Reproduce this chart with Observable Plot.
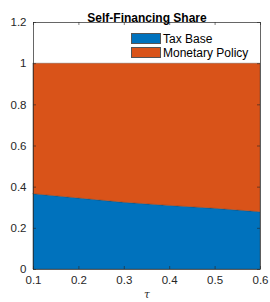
<!DOCTYPE html>
<html><head><meta charset="utf-8">
<script src="https://cdn.jsdelivr.net/npm/d3@7"></script>
<script src="https://cdn.jsdelivr.net/npm/@observablehq/plot@0.6"></script>
<style>
body{margin:0;background:#fff}
#wrap{position:relative;width:270px;height:302px;font-family:"Liberation Sans",Arial,Helvetica,sans-serif}
.leg{position:absolute;left:131px;font-size:12px;color:#000;display:flex;align-items:center;height:11px;white-space:nowrap}
.sw{width:30px;height:11px;border:0.6px solid #555;box-sizing:border-box;margin-right:2px}
</style></head><body><div id="wrap"></div>
<script>
const tau = [0.1, 0.2, 0.3, 0.4, 0.5, 0.6];
const taxBase = [0.366, 0.345, 0.324, 0.309, 0.295, 0.278];
const monetaryPolicy = [0.634, 0.655, 0.676, 0.691, 0.705, 0.722];
const seriesNames = ["Tax Base", "Monetary Policy"];
const seriesColors = ["#0072BD", "#D95319"];
const xTicks = [0.1, 0.2, 0.3, 0.4, 0.5, 0.6];
const yTicks = [0, 0.2, 0.4, 0.6, 0.8, 1, 1.2];
const title = "Self-Financing Share";
const xLabel = "τ";

const rows = [];
tau.forEach((t, i) => {
  rows.push({tau: t, value: taxBase[i], series: seriesNames[0]});
  rows.push({tau: t, value: monetaryPolicy[i], series: seriesNames[1]});
});

const W = 270, H = 302, mL = 33, mR = 10, mT = 22, mB = 33;
const fh = H - mT - mB;
const ax = "#262626";

const chart = Plot.plot({
  width: W, height: H,
  marginLeft: mL, marginRight: mR, marginTop: mT, marginBottom: mB,
  style: {fontFamily: '"Liberation Sans", Arial, Helvetica, sans-serif', fontSize: "11.5px", color: ax, background: "#fff"},
  x: {domain: [0.1, 0.6], ticks: xTicks, label: null},
  y: {domain: [0, 1.2], ticks: yTicks, label: null},
  color: {domain: seriesNames, range: seriesColors},
  marks: [
    Plot.areaY(rows, {x: "tau", y: "value", fill: "series", z: "series", order: seriesNames, stroke: "#333", strokeWidth: 0.5, strokeOpacity: 0.6}),
    Plot.axisX({ticks: xTicks, tickSize: 0, tickPadding: 6, tickFormat: d => String(d), fill: ax, fontSize: 11.5, label: null}),
    Plot.axisY({ticks: yTicks, tickSize: 0, tickPadding: 7, tickFormat: d => String(d), fill: ax, fontSize: 11.5, label: null}),
    Plot.tickX(xTicks, {x: d => d, stroke: ax, strokeWidth: 0.6, insetTop: fh - 3}),
    Plot.tickX(xTicks, {x: d => d, stroke: ax, strokeWidth: 0.6, insetBottom: fh - 3}),
    Plot.tickY(yTicks, {y: d => d, stroke: ax, strokeWidth: 0.6, insetRight: W - mL - mR - 3}),
    Plot.tickY(yTicks, {y: d => d, stroke: ax, strokeWidth: 0.6, insetLeft: W - mL - mR - 3}),
    Plot.frame({stroke: ax, strokeWidth: 0.7}),
    Plot.text([title], {frameAnchor: "top", dy: -9, text: d => d, fontWeight: "bold", fontSize: 12, fill: "#000"}),
    Plot.text([xLabel], {frameAnchor: "bottom", dy: 28, text: d => d, fontStyle: "italic", fontSize: 10.5, fill: ax, fontFamily: "DejaVu Serif, serif"})
  ]
});
const wrap = document.getElementById("wrap");
wrap.appendChild(chart);
[[0, 33], [1, 47]].forEach(([i, top]) => {
  const d = document.createElement("div");
  d.className = "leg";
  d.style.top = top + "px";
  d.innerHTML = `<div class="sw" style="background:${seriesColors[i]}"></div><span>${seriesNames[i]}</span>`;
  wrap.appendChild(d);
});
</script></body></html>
